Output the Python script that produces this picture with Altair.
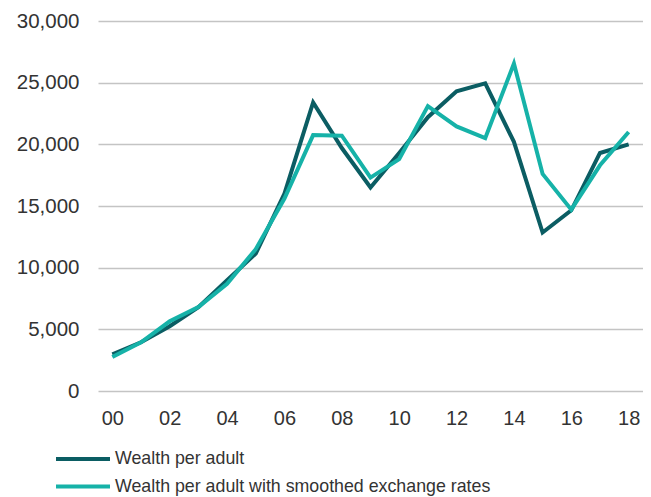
import altair as alt
import pandas as pd

years = list(range(2000, 2019))
series_names = ["Wealth per adult", "Wealth per adult with smoothed exchange rates"]
wealth = [2980, 3950, 5250, 6800, 8980, 11140, 16000, 23400, 19700, 16500, 19300,
          22200, 24300, 24950, 20200, 12850, 14650, 19300, 20000]
wealth_smoothed = [2760, 3950, 5650, 6800, 8700, 11500, 15600, 20750, 20700, 17300, 18800,
                   23100, 21450, 20500, 26550, 17600, 14700, 18300, 21000]
colors = ["#0b5d63", "#16b2a8"]

rows = []
for y, a, b in zip(years, wealth, wealth_smoothed):
    rows.append({"year": y, "series": series_names[0], "value": a})
    rows.append({"year": y, "series": series_names[1], "value": b})
df = pd.DataFrame(rows)

FONT = "Liberation Sans"
color_scale = alt.Scale(domain=series_names, range=colors)

lines = alt.Chart(df).mark_line(strokeWidth=4, strokeJoin="miter").encode(
    x=alt.X("year:Q",
            scale=alt.Scale(domain=[1999.5, 2018.5], nice=False, zero=False),
            axis=alt.Axis(values=years[::2], labelExpr="substring(datum.value + '', 2)",
                          grid=False, ticks=False, domain=False, title=None,
                          labelFontSize=20, labelPadding=17, labelColor="#333333",
                          labelFont=FONT)),
    y=alt.Y("value:Q",
            scale=alt.Scale(domain=[0, 30000], nice=False),
            axis=alt.Axis(values=[0, 5000, 10000, 15000, 20000, 25000, 30000], format=",.0f",
                          grid=True, gridColor="#c4c4c4", gridWidth=1.3, ticks=False,
                          domain=False, title=None, labelFontSize=20.5, labelPadding=19,
                          labelColor="#333333", labelFont=FONT)),
    color=alt.Color("series:N", scale=color_scale, legend=None),
    order="year:Q",
)

# custom legend below the plot
legend_layers = []
for i, name in enumerate(series_names):
    ldf = pd.DataFrame({"series": [name]})
    row_y = 438 + 27.5 * i
    legend_layers.append(
        alt.Chart(ldf).mark_rule(strokeWidth=4).encode(
            x=alt.value(-42), x2=alt.value(12), y=alt.value(row_y),
            color=alt.Color("series:N", scale=color_scale, legend=None),
        )
    )
    legend_layers.append(
        alt.Chart(ldf).mark_text(align="left", baseline="middle", font=FONT,
                                 fontSize=17.8, color="#333333").encode(
            x=alt.value(17), y=alt.value(row_y), text="series:N",
        )
    )

chart = alt.layer(lines, *legend_layers).properties(
    width=545, height=370,
    autosize=alt.AutoSizeParams(type="none"),
    padding={"left": 90, "top": 13, "right": 0, "bottom": 110},
).configure_view(stroke=None)

chart.save("out.html", embed_options={"renderer": "svg", "actions": False})
